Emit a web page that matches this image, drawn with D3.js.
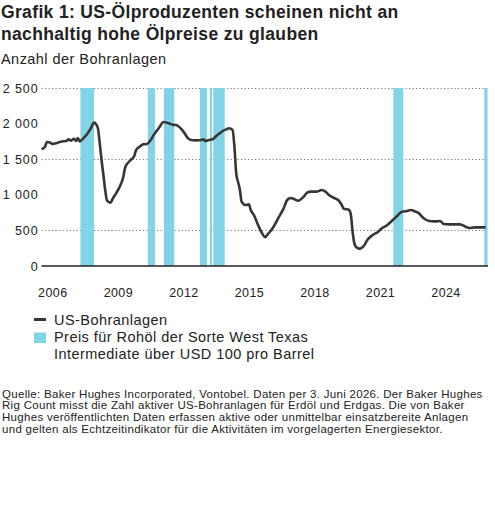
<!DOCTYPE html>
<html>
<head>
<meta charset="utf-8">
<script src="https://cdn.jsdelivr.net/npm/d3@7"></script>
<style>
  body { margin: 0; background: #fff; }
  text { font-family: "Liberation Sans", Arial, sans-serif; fill: #222; }
</style>
</head>
<body>
<div id="rig_chart"></div>
<script>
// rig count (month, number of rigs)
const rigMonths = ["2006-01","2006-03","2006-04","2006-06","2006-07","2006-09","2006-11",
  "2007-01","2007-03","2007-04","2007-05","2007-07","2007-08","2007-09","2007-10","2007-12",
  "2008-02","2008-04","2008-06","2008-07","2008-08","2008-09","2008-10","2008-11","2008-12",
  "2009-01","2009-03","2009-04","2009-06","2009-08","2009-10","2009-11",
  "2010-02","2010-04","2010-05","2010-07","2010-09","2010-11",
  "2011-01","2011-03","2011-04","2011-06","2011-08","2011-10","2011-11",
  "2012-01","2012-03","2012-04","2012-06","2012-08","2012-09","2012-11",
  "2013-02","2013-05","2013-06","2013-07","2013-09","2013-11",
  "2014-01","2014-03","2014-04","2014-07","2014-08","2014-10","2014-11","2014-12",
  "2015-01","2015-02","2015-03","2015-05","2015-07","2015-08","2015-10","2015-12",
  "2016-02","2016-04","2016-05","2016-08","2016-11",
  "2017-02","2017-04","2017-06","2017-08","2017-10",
  "2018-01","2018-03","2018-05","2018-08","2018-11",
  "2019-01","2019-03","2019-05","2019-08","2019-10","2019-11",
  "2020-02","2020-03","2020-04","2020-05","2020-06","2020-07","2020-08","2020-09","2020-10","2020-12",
  "2021-03","2021-06","2021-08","2021-11",
  "2022-02","2022-05","2022-07","2022-09","2022-12",
  "2023-02","2023-04","2023-07","2023-10",
  "2024-01","2024-04","2024-06","2024-09","2024-12",
  "2025-03","2025-06","2025-08","2025-11",
  "2026-02","2026-05"];
const rigCount = [1639,1676,1742,1732,1713,1723,1742,
  1751,1760,1779,1760,1788,1756,1798,1751,1793,
  1850,1928,2015,1990,1934,1723,1489,1280,1067,
  917,889,937,1021,1114,1254,1386,
  1489,1545,1629,1676,1709,1713,
  1770,1850,1886,1956,2022,2013,2004,
  1985,1980,1966,1920,1850,1808,1770,
  1765,1770,1779,1756,1770,1779,
  1826,1864,1886,1924,1934,1910,1676,1302,
  1180,1067,903,857,865,787,702,576,
  468,403,435,529,670,
  810,927,955,937,917,
  973,1029,1044,1044,1067,
  1044,997,965,927,857,805,
  787,720,470,310,265,250,243,258,280,365,
  435,482,529,576,
  646,716,763,768,787,
  768,749,670,632,
  627,632,590,585,585,
  585,552,534,543,
  543,543];

// periods with WTI above USD 100
const bandStart = ["2007-10-14","2010-11-13","2011-08-10","2013-04-04","2013-09-18","2013-11-12","2022-02-09","2026-04-10"];
const bandEnd   = ["2008-05-28","2011-03-13","2012-01-30","2013-07-30","2013-10-22","2014-05-22","2022-07-26","2026-06-03"];

const yearLabels = [2006, 2009, 2012, 2015, 2018, 2021, 2024];
const yTicks = [0, 500, 1000, 1500, 2000, 2500];
const gridTicks = [500, 1500, 2500];

const width = 495, height = 505;
const lineColor = "#383634";
const bandColor = "#83d3e6";

const parseMonth = d3.timeParse("%Y-%m");
const parseDay = d3.timeParse("%Y-%m-%d");
const data = rigMonths.map((m, i) => ({ date: parseMonth(m), value: rigCount[i] }));

const svg = d3.select("#rig_chart")
      .append("svg")
      .attr("width", width)
      .attr("height", height);

// title + subtitle
const title = svg.append("text")
      .attr("x", 1)
      .attr("y", 18)
      .style("font-size", "17.5px")
      .style("letter-spacing", "0.35px")
      .style("font-weight", "bold");
title.append("tspan").attr("x", 1).text("Grafik 1: US-Ölproduzenten scheinen nicht an");
title.append("tspan").attr("x", 1).attr("dy", 21.5).text("nachhaltig hohe Ölpreise zu glauben");

svg.append("text")
      .attr("x", 1)
      .attr("y", 64)
      .style("font-size", "14.5px")
      .style("letter-spacing", "0.45px")
      .text("Anzahl der Bohranlagen");

let x = d3.scaleTime()
      .domain([new Date(2006, 0, 1), new Date(2026, 5, 3)])
      .range([41.5, 487.5]);

let y = d3.scaleLinear()
      .domain([0, 2500])
      .range([266, 88]);

// dotted gridlines
svg.append("g")
      .selectAll("line")
      .data(gridTicks)
      .join("line")
      .attr("x1", 41.5)
      .attr("x2", 488)
      .attr("y1", d => Math.round(y(d)) + 0.5)
      .attr("y2", d => Math.round(y(d)) + 0.5)
      .attr("stroke", "#777")
      .attr("stroke-width", 1)
      .attr("stroke-dasharray", "1.2,2.3");

// oil price bands
svg.append("g")
      .selectAll("rect")
      .data(bandStart.map((s, i) => [parseDay(s), parseDay(bandEnd[i])]))
      .join("rect")
      .attr("x", d => x(d[0]))
      .attr("width", d => x(d[1]) - x(d[0]))
      .attr("y", y(2500))
      .attr("height", y(0) - y(2500))
      .attr("fill", bandColor);

// Add Y axis
const de = d3.formatLocale({ decimal: ",", thousands: " ", grouping: [3], currency: ["", ""] });
const yAxis = svg.append("g")
      .attr("transform", "translate(38.5,0)")
      .call(d3.axisLeft(y).tickValues(yTicks).tickSize(0).tickPadding(0).tickFormat(de.format(",")));
yAxis.select(".domain").remove();
yAxis.selectAll("text")
      .attr("fill", "#222")
      .style("font-size", "12.5px")
      .style("letter-spacing", "0.9px")
      .style("font-family", "Liberation Sans, Arial, sans-serif");

// baseline
svg.append("line")
      .attr("x1", 41.5)
      .attr("x2", 488)
      .attr("y1", y(0))
      .attr("y2", y(0))
      .attr("stroke", "#222")
      .attr("stroke-width", 1.4);

// Add X axis (labels centred mid-year)
const xAxis = svg.append("g")
      .attr("transform", "translate(0,288)")
      .call(d3.axisBottom(x)
            .tickValues(yearLabels.map(yr => new Date(yr, 6, 1)))
            .tickSize(0)
            .tickPadding(0)
            .tickFormat(d3.timeFormat("%Y")));
xAxis.select(".domain").remove();
xAxis.selectAll("text")
      .attr("fill", "#222")
      .style("font-size", "12.5px")
      .style("letter-spacing", "0.4px")
      .style("font-family", "Liberation Sans, Arial, sans-serif");

// rig count line
svg.append("path")
      .datum(data)
      .attr("fill", "none")
      .attr("stroke", lineColor)
      .attr("stroke-width", 2.6)
      .attr("stroke-linejoin", "round")
      .attr("d", d3.line()
            .x(d => x(d.date))
            .y(d => y(d.value))
            .curve(d3.curveMonotoneX)
      );

// legend
const legend = svg.append("g");
legend.append("line")
      .attr("x1", 34).attr("x2", 46)
      .attr("y1", 319.5).attr("y2", 319.5)
      .attr("stroke", lineColor)
      .attr("stroke-width", 3);
legend.append("text")
      .attr("x", 54)
      .attr("y", 324.5)
      .style("font-size", "14.5px")
      .style("letter-spacing", "0.45px")
      .text("US-Bohranlagen");
legend.append("rect")
      .attr("x", 34).attr("y", 332.5)
      .attr("width", 12).attr("height", 10.5)
      .attr("fill", bandColor);
const legText = legend.append("text")
      .attr("x", 54)
      .attr("y", 342)
      .style("font-size", "14.5px")
      .style("letter-spacing", "0.45px");
legText.append("tspan").attr("x", 54).text("Preis für Rohöl der Sorte West Texas");
legText.append("tspan").attr("x", 54).attr("dy", 17.3).text("Intermediate über USD 100 pro Barrel");

// footnote
const notes = [
  "Quelle: Baker Hughes Incorporated, Vontobel. Daten per 3. Juni 2026. Der Baker Hughes",
  "Rig Count misst die Zahl aktiver US-Bohranlagen für Erdöl und Erdgas. Die von Baker",
  "Hughes veröffentlichten Daten erfassen aktive oder unmittelbar einsatzbereite Anlagen",
  "und gelten als Echtzeitindikator für die Aktivitäten im vorgelagerten Energiesektor."
];
svg.append("g")
      .selectAll("text")
      .data(notes)
      .join("text")
      .attr("x", 2)
      .attr("y", (d, i) => 397.5 + i * 11.7)
      .style("font-size", "11.5px")
      .style("letter-spacing", "0.3px")
      .text(d => d);
</script>
</body>
</html>
